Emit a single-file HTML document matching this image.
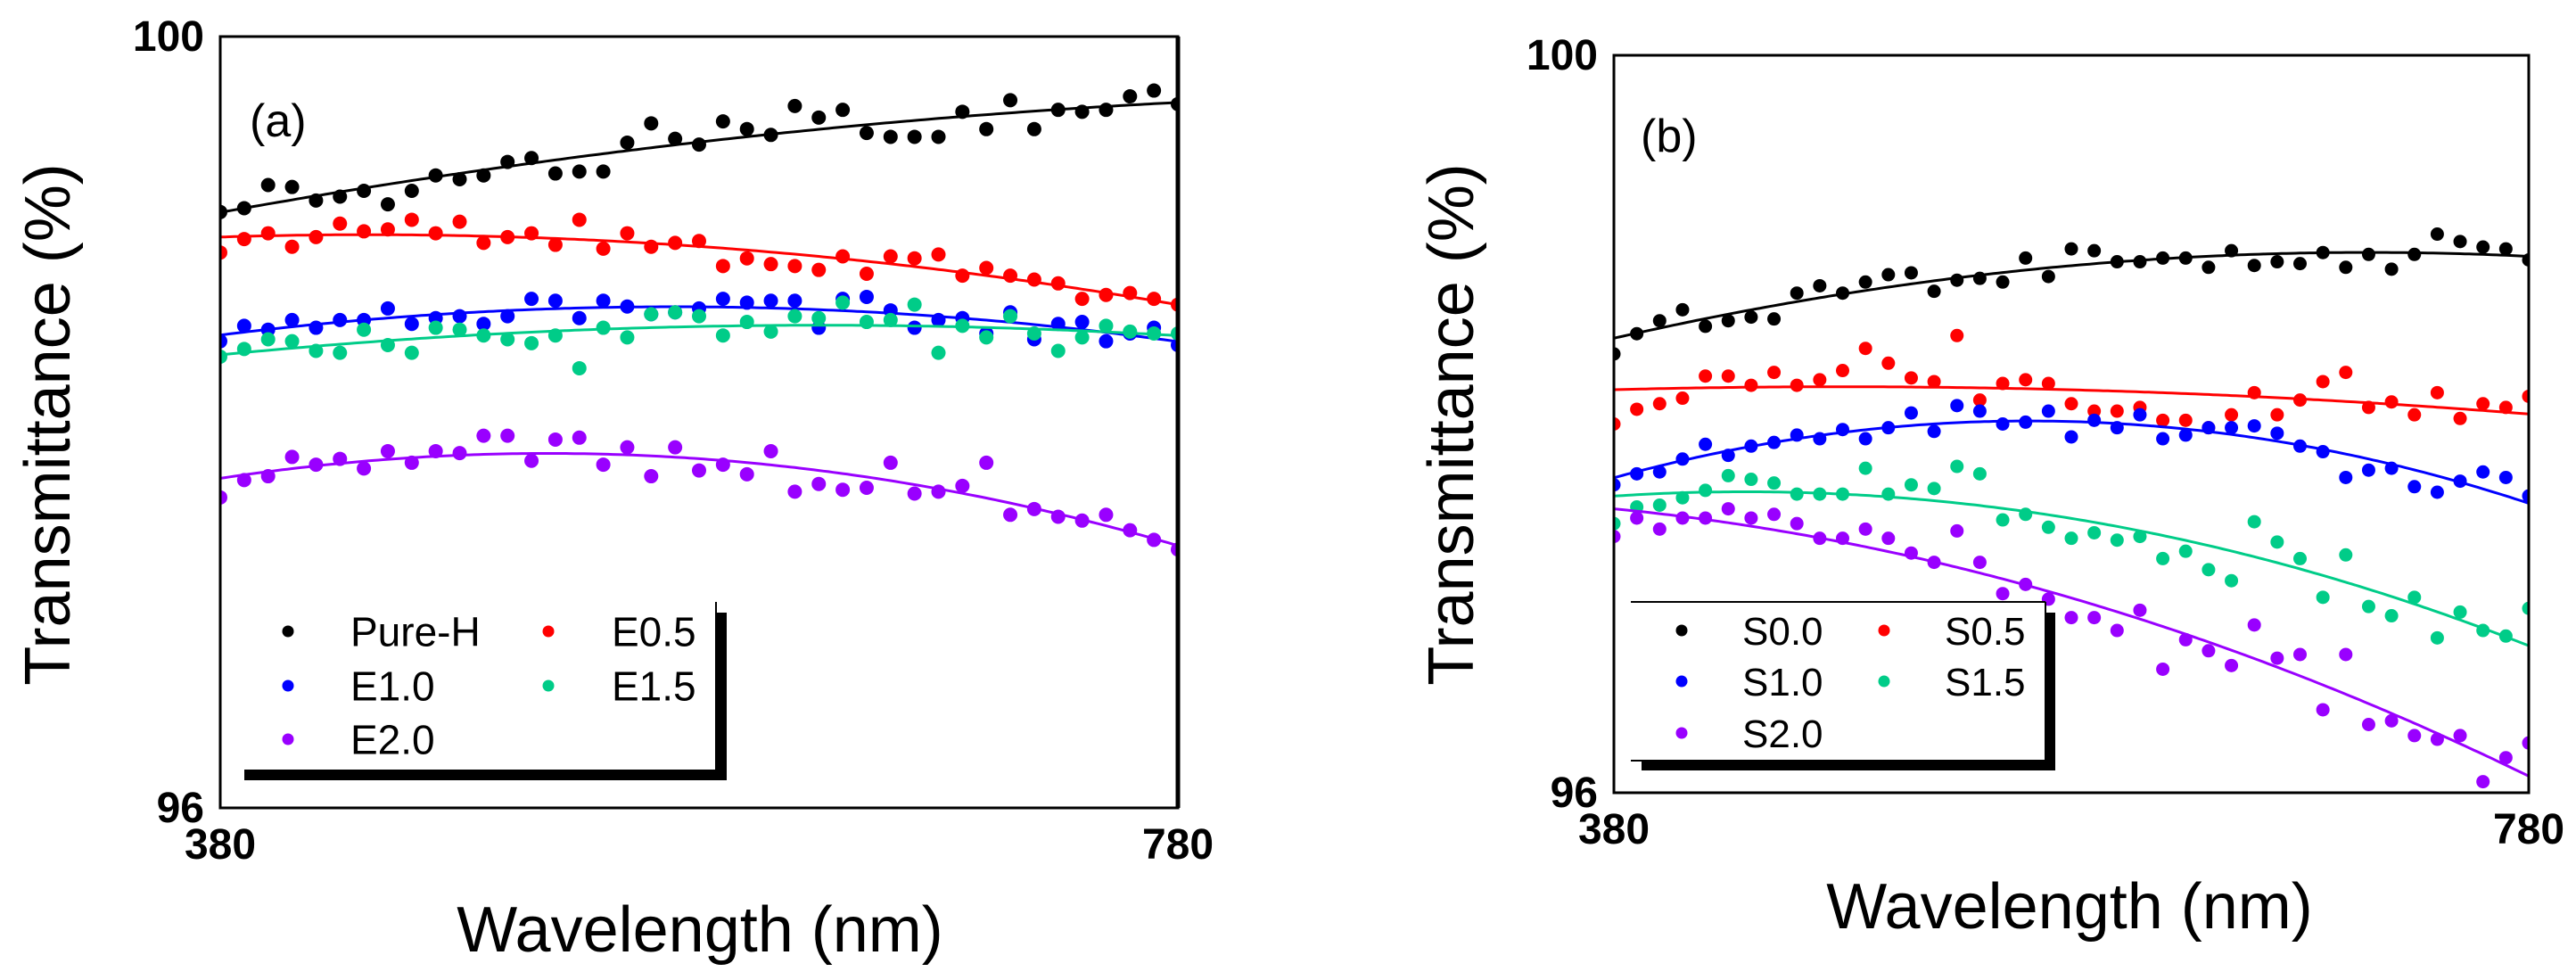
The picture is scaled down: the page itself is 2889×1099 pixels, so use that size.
<!DOCTYPE html>
<html><head><meta charset="utf-8">
<style>
html,body{margin:0;padding:0;background:#fff;}
svg{display:block;font-family:"Liberation Sans",Arial,sans-serif;}
</style></head>
<body>
<svg id="fig" width="2889" height="1099" viewBox="0 0 2889 1099" xmlns="http://www.w3.org/2000/svg">
<g id="panelA"></g>
<g id="panelB"></g>
</svg>
<script>
// ---- shared data ----
const wavelengths = [];
for (let w = 380; w <= 780; w += 10) wavelengths.push(w);
const xTicks = [380, 780];
const yTicks = [96, 100];

// ---- panel (a) data ----
const aNames = ["Pure-H", "E0.5", "E1.0", "E1.5", "E2.0"];
const aPureH = [99.09,99.11,99.23,99.22,99.15,99.17,99.20,99.13,99.20,99.28,99.26,99.28,99.35,99.37,99.29,99.30,99.30,99.45,99.55,99.47,99.44,99.56,99.52,99.49,99.64,99.58,99.62,99.50,99.48,99.48,99.48,99.61,99.52,99.67,99.52,99.62,99.61,99.62,99.69,99.72,99.65];
const aE05 = [98.88,98.95,98.98,98.91,98.96,99.03,98.99,99.00,99.05,98.98,99.04,98.93,98.96,98.98,98.92,99.05,98.90,98.98,98.91,98.93,98.94,98.81,98.85,98.82,98.81,98.79,98.86,98.77,98.86,98.85,98.87,98.76,98.80,98.76,98.74,98.72,98.64,98.66,98.67,98.64,98.61];
const aE10 = [98.42,98.50,98.48,98.53,98.49,98.53,98.53,98.59,98.51,98.54,98.55,98.51,98.55,98.64,98.63,98.54,98.63,98.60,98.56,98.57,98.59,98.64,98.62,98.63,98.63,98.49,98.64,98.65,98.58,98.49,98.53,98.54,98.46,98.57,98.43,98.51,98.52,98.42,98.46,98.49,98.40];
const aE15 = [98.34,98.38,98.43,98.42,98.37,98.36,98.48,98.40,98.36,98.49,98.48,98.45,98.43,98.41,98.45,98.28,98.49,98.44,98.56,98.57,98.55,98.45,98.52,98.47,98.55,98.54,98.62,98.52,98.53,98.61,98.36,98.50,98.44,98.55,98.46,98.37,98.44,98.50,98.47,98.46,98.46];
const aE20 = [97.61,97.70,97.72,97.82,97.78,97.81,97.76,97.85,97.79,97.85,97.84,97.93,97.93,97.80,97.91,97.92,97.78,97.87,97.72,97.87,97.75,97.78,97.73,97.85,97.64,97.68,97.65,97.66,97.79,97.63,97.64,97.67,97.79,97.52,97.55,97.51,97.49,97.52,97.44,97.39,97.34];

// ---- panel (b) data ----
const bNames = ["S0.0", "S0.5", "S1.0", "S1.5", "S2.0"];
const bS00 = [98.38,98.49,98.56,98.62,98.53,98.56,98.58,98.57,98.71,98.75,98.71,98.77,98.81,98.82,98.72,98.78,98.79,98.77,98.90,98.80,98.95,98.94,98.88,98.88,98.90,98.90,98.85,98.94,98.86,98.88,98.87,98.93,98.85,98.92,98.84,98.92,99.03,98.99,98.96,98.95,98.89];
const bS05 = [98.00,98.08,98.11,98.14,98.26,98.26,98.21,98.28,98.21,98.24,98.29,98.41,98.33,98.25,98.23,98.48,98.13,98.22,98.24,98.22,98.11,98.07,98.07,98.09,98.02,98.02,97.98,98.05,98.17,98.05,98.13,98.23,98.28,98.09,98.12,98.05,98.17,98.03,98.11,98.09,98.15];
const bS10 = [97.67,97.73,97.74,97.81,97.89,97.83,97.88,97.90,97.94,97.92,97.97,97.92,97.98,98.06,97.96,98.10,98.07,98.00,98.01,98.07,97.93,98.02,97.98,98.05,97.92,97.94,97.98,97.98,97.99,97.95,97.88,97.85,97.71,97.75,97.76,97.66,97.63,97.69,97.74,97.71,97.61];
const bS15 = [97.46,97.55,97.56,97.60,97.64,97.72,97.70,97.68,97.62,97.62,97.62,97.76,97.62,97.67,97.65,97.77,97.73,97.48,97.51,97.44,97.38,97.41,97.37,97.39,97.27,97.31,97.21,97.15,97.47,97.36,97.27,97.06,97.29,97.01,96.96,97.06,96.84,96.98,96.88,96.85,97.00];
const bS20 = [97.39,97.49,97.43,97.49,97.49,97.54,97.49,97.51,97.46,97.38,97.38,97.43,97.38,97.30,97.25,97.42,97.25,97.08,97.13,97.05,96.95,96.95,96.88,96.99,96.67,96.83,96.77,96.69,96.91,96.73,96.75,96.45,96.75,96.37,96.39,96.31,96.29,96.31,96.06,96.19,96.27];

const colors = ["#000000", "#ff0000", "#0000ff", "#00cc88", "#9900ff"];

const NS = "http://www.w3.org/2000/svg";
function mk(tag, attrs, parent) {
  const e = document.createElementNS(NS, tag);
  for (const k in attrs) e.setAttribute(k, attrs[k]);
  if (parent) parent.appendChild(e);
  return e;
}

// quadratic least squares
function quadFit(xs, ys) {
  const n = xs.length;
  const xm = xs.reduce((a, b) => a + b, 0) / n;
  let S = [0,0,0,0,0], T = [0,0,0];
  for (let i = 0; i < n; i++) {
    const u = (xs[i] - xm) / 100;
    let p = 1;
    for (let k = 0; k < 5; k++) { S[k] += p; if (k < 3) T[k] += p * ys[i]; p *= u; }
  }
  const A = [[S[0],S[1],S[2],T[0]],[S[1],S[2],S[3],T[1]],[S[2],S[3],S[4],T[2]]];
  for (let c = 0; c < 3; c++) {
    for (let r = c + 1; r < 3; r++) {
      const f = A[r][c] / A[c][c];
      for (let k = c; k < 4; k++) A[r][k] -= f * A[c][k];
    }
  }
  const co = [0,0,0];
  for (let r = 2; r >= 0; r--) {
    let s = A[r][3];
    for (let k = r + 1; k < 3; k++) s -= A[r][k] * co[k];
    co[r] = s / A[r][r];
  }
  return x => { const u = (x - xm) / 100; return co[0] + co[1]*u + co[2]*u*u; };
}

function drawPanel(g, cfg) {
  const sx = v => cfg.x0 + (v - 380) / 400 * (cfg.x1 - cfg.x0);
  const sy = v => cfg.y0 + (100 - v) / 4 * (cfg.y1 - cfg.y0);
  const clipId = "clip" + cfg.id;
  const defs = mk("defs", {}, g);
  const cp = mk("clipPath", {id: clipId}, defs);
  mk("rect", {x: cfg.x0, y: cfg.y0, width: cfg.x1 - cfg.x0, height: cfg.y1 - cfg.y0}, cp);

  const plot = mk("g", {"clip-path": "url(#" + clipId + ")"}, g);
  
  

  cfg.series.forEach((vals, si) => {
    const sg = mk("g", {}, plot);
    
    
    const fit = quadFit(wavelengths, vals);
    let d = "";
    for (let w = 380; w <= 780; w += 2) d += (d ? "L" : "M") + sx(w).toFixed(1) + "," + sy(fit(w)).toFixed(1);
    const fl = mk("path", {d: d, fill: "none", stroke: colors[si], "stroke-width": 3}, sg);
    
    
    vals.forEach((v, i) => {
      const c = mk("circle", {cx: sx(wavelengths[i]), cy: sy(v), r: cfg.r, fill: colors[si]}, sg);
      
      
    });
  });

  const fr = mk("rect", {x: cfg.x0, y: cfg.y0, width: cfg.x1 - cfg.x0, height: cfg.y1 - cfg.y0, fill: "none", stroke: "#000", "stroke-width": 3}, g);
  
  
  const ra = mk("line", {x1: cfg.x1, y1: cfg.y0, x2: cfg.x1, y2: cfg.y1, stroke: "#000", "stroke-width": cfg.rightW}, g);
  
  

  yTicks.forEach(t => {
    const tx = mk("text", {x: cfg.x0 - 18, y: sy(t) + 16, "font-size": 48, "font-weight": "bold", "text-anchor": "end"}, g);
    tx.textContent = t;
    
    
  });
  xTicks.forEach(t => {
    const tx = mk("text", {x: sx(t), y: cfg.y1 + cfg.xtickDy, "font-size": 48, "font-weight": "bold", "text-anchor": "middle"}, g);
    tx.textContent = t;
    
    
  });

  const xt = mk("text", {x: cfg.xtX, y: cfg.xtY, "font-size": 72, "text-anchor": "middle"}, g);
  xt.textContent = "Wavelength (nm)";
  
  
  const yt = mk("text", {x: 0, y: 0, "font-size": 72, "text-anchor": "middle", transform: "translate(" + cfg.ytX + "," + cfg.ytY + ") rotate(-90)"}, g);
  yt.textContent = "Transmittance (%)";
  
  

  const pl = mk("text", {x: cfg.plX, y: cfg.plY, "font-size": 52}, g);
  pl.textContent = cfg.label;
  
  

  const L = cfg.leg;
  const lg = mk("g", {}, g);
  
  
  mk("rect", {x: L.x0, y: L.y0, width: L.x1 - L.x0, height: L.y1 - L.y0, fill: "#fff"}, lg);
  if (L.topLine) mk("line", {x1: L.x0, y1: L.y0, x2: L.x1, y2: L.y0, stroke: "#000", "stroke-width": 2}, lg);
  mk("line", {x1: L.x1, y1: L.y0, x2: L.x1, y2: L.y1, stroke: "#000", "stroke-width": 2}, lg);
  if (L.topLine) mk("line", {x1: L.x0, y1: L.y1, x2: L.x1, y2: L.y1, stroke: "#000", "stroke-width": 2}, lg);
  mk("rect", {x: L.x1, y: L.y0 + 12, width: L.sh, height: L.y1 - L.y0 - 12 + L.sh, fill: "#000"}, lg);
  mk("rect", {x: L.x0 + 12, y: L.y1, width: L.x1 - L.x0 - 12 + L.sh, height: L.sh, fill: "#000"}, lg);
  const order = [[0,0,0],[1,1,0],[2,0,1],[3,1,1],[4,0,2]];
  order.forEach(([si, col, row]) => {
    const e = mk("g", {}, lg);
    
    
    mk("circle", {cx: L.mx[col], cy: L.rows[row], r: 6.5, fill: colors[si]}, e);
    const t = mk("text", {x: L.tx[col], y: L.rows[row] + L.fs * 0.36, "font-size": L.fs}, e);
    t.textContent = cfg.names[si];
  });
}

drawPanel(document.getElementById("panelA"), {
  id: "A", x0: 247, x1: 1321, y0: 41, y1: 906, r: 8, rightW: 5, xtickDy: 57,
  series: [aPureH, aE05, aE10, aE15, aE20], names: aNames,
  xtX: 785, xtY: 1067, ytX: 78, ytY: 476, plX: 280, plY: 153, label: "(a)",
  leg: {x0: 262, x1: 803, y0: 675, y1: 863, sh: 12, topLine: false, fs: 46,
        mx: [323, 615], tx: [393, 686], rows: [708, 769, 829]}
});
drawPanel(document.getElementById("panelB"), {
  id: "B", x0: 1810, x1: 2836, y0: 62, y1: 889, r: 7.5, rightW: 3, xtickDy: 57,
  series: [bS00, bS05, bS10, bS15, bS20], names: bNames,
  xtX: 2321, xtY: 1041, ytX: 1652, ytY: 476, plX: 1840, plY: 170, label: "(b)",
  leg: {x0: 1829, x1: 2294, y0: 675, y1: 853, sh: 11, topLine: true, fs: 44,
        mx: [1886, 2113], tx: [1954, 2181], rows: [707, 764, 822]}
});
</script>
</body></html>
